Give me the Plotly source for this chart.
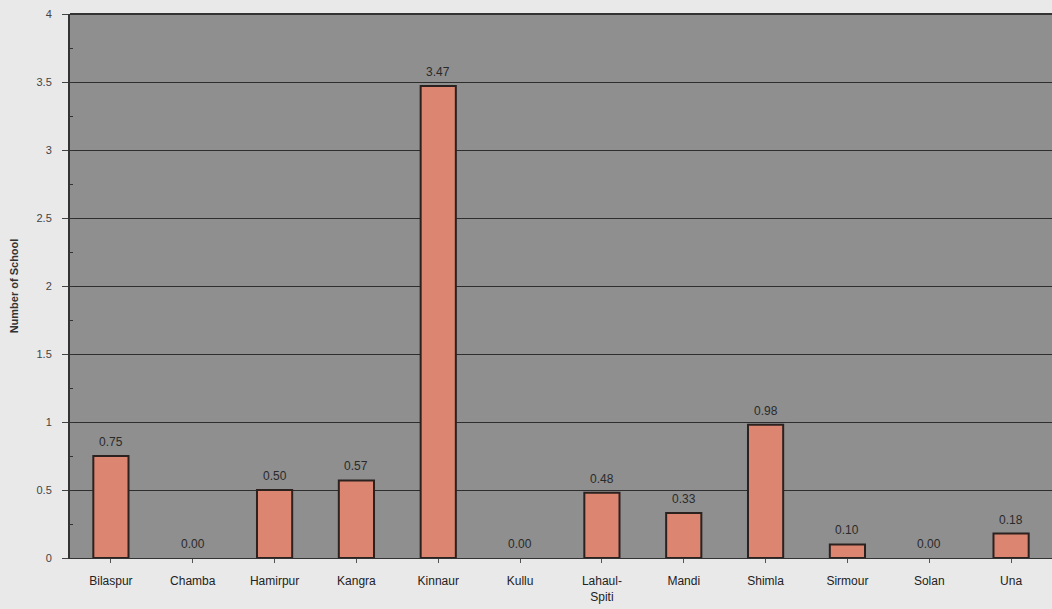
import plotly.graph_objects as go

districts = ["Bilaspur", "Chamba", "Hamirpur", "Kangra", "Kinnaur", "Kullu",
             "Lahaul-<br>Spiti", "Mandi", "Shimla", "Sirmour", "Solan", "Una"]
schools = [0.75, 0.00, 0.50, 0.57, 3.47, 0.00, 0.48, 0.33, 0.98, 0.10, 0.00, 0.18]
y_ticks = [0, 0.5, 1, 1.5, 2, 2.5, 3, 3.5, 4]
y_tick_labels = ["0", "0.5", "1", "1.5", "2", "2.5", "3", "3.5", "4"]

fig = go.Figure(go.Bar(
    x=districts, y=schools,
    marker=dict(color="#dc8570",
                line=dict(color="#2b2220", width=[2 if v > 0 else 0 for v in schools])),
    width=0.43,
))

for d, v in zip(districts, schools):
    fig.add_annotation(x=d, y=v, text=f"{v:.2f}", showarrow=False,
                       yanchor="bottom", yshift=5,
                       font=dict(family="Liberation Sans, Arial", size=12, color="#2a2a2a"))

fig.update_layout(
    width=1052, height=609,
    margin=dict(l=70, r=0, t=14, b=51),
    paper_bgcolor="#e9e9e9",
    plot_bgcolor="#8f8f8f",
    showlegend=False,
    xaxis=dict(
        tickfont=dict(family="Liberation Sans, Arial", size=12, color="#222"),
        showgrid=False, ticks="outside", ticklen=4, tickcolor="#555",
        ticklabelstandoff=8,
        showline=True, linecolor="#333", linewidth=1,
    ),
    yaxis=dict(
        range=[0, 4], tickvals=y_ticks, ticktext=y_tick_labels,
        tickfont=dict(family="Liberation Sans, Arial", size=11, color="#444"),
        title=dict(text="<b>Number of School</b>", font=dict(family="Liberation Sans, Arial", size=11, color="#333"), standoff=16),
        showgrid=True, gridcolor="#2e2e2e", gridwidth=1,
        ticks="outside", ticklen=6, tickcolor="#444",
        ticklabelstandoff=8,
        showline=True, linecolor="#333", linewidth=2,
        minor=dict(dtick=0.25, ticks="inside", ticklen=3, tickcolor="#333", showgrid=False),
        zeroline=False,
    ),
    shapes=[dict(type="line", xref="paper", yref="paper", x0=0, x1=1, y0=1, y1=1,
                 line=dict(color="#333", width=2))],
)

fig.write_html("out.html", config={"displayModeBar": False},
               post_script="document.body.style.margin='0';")
